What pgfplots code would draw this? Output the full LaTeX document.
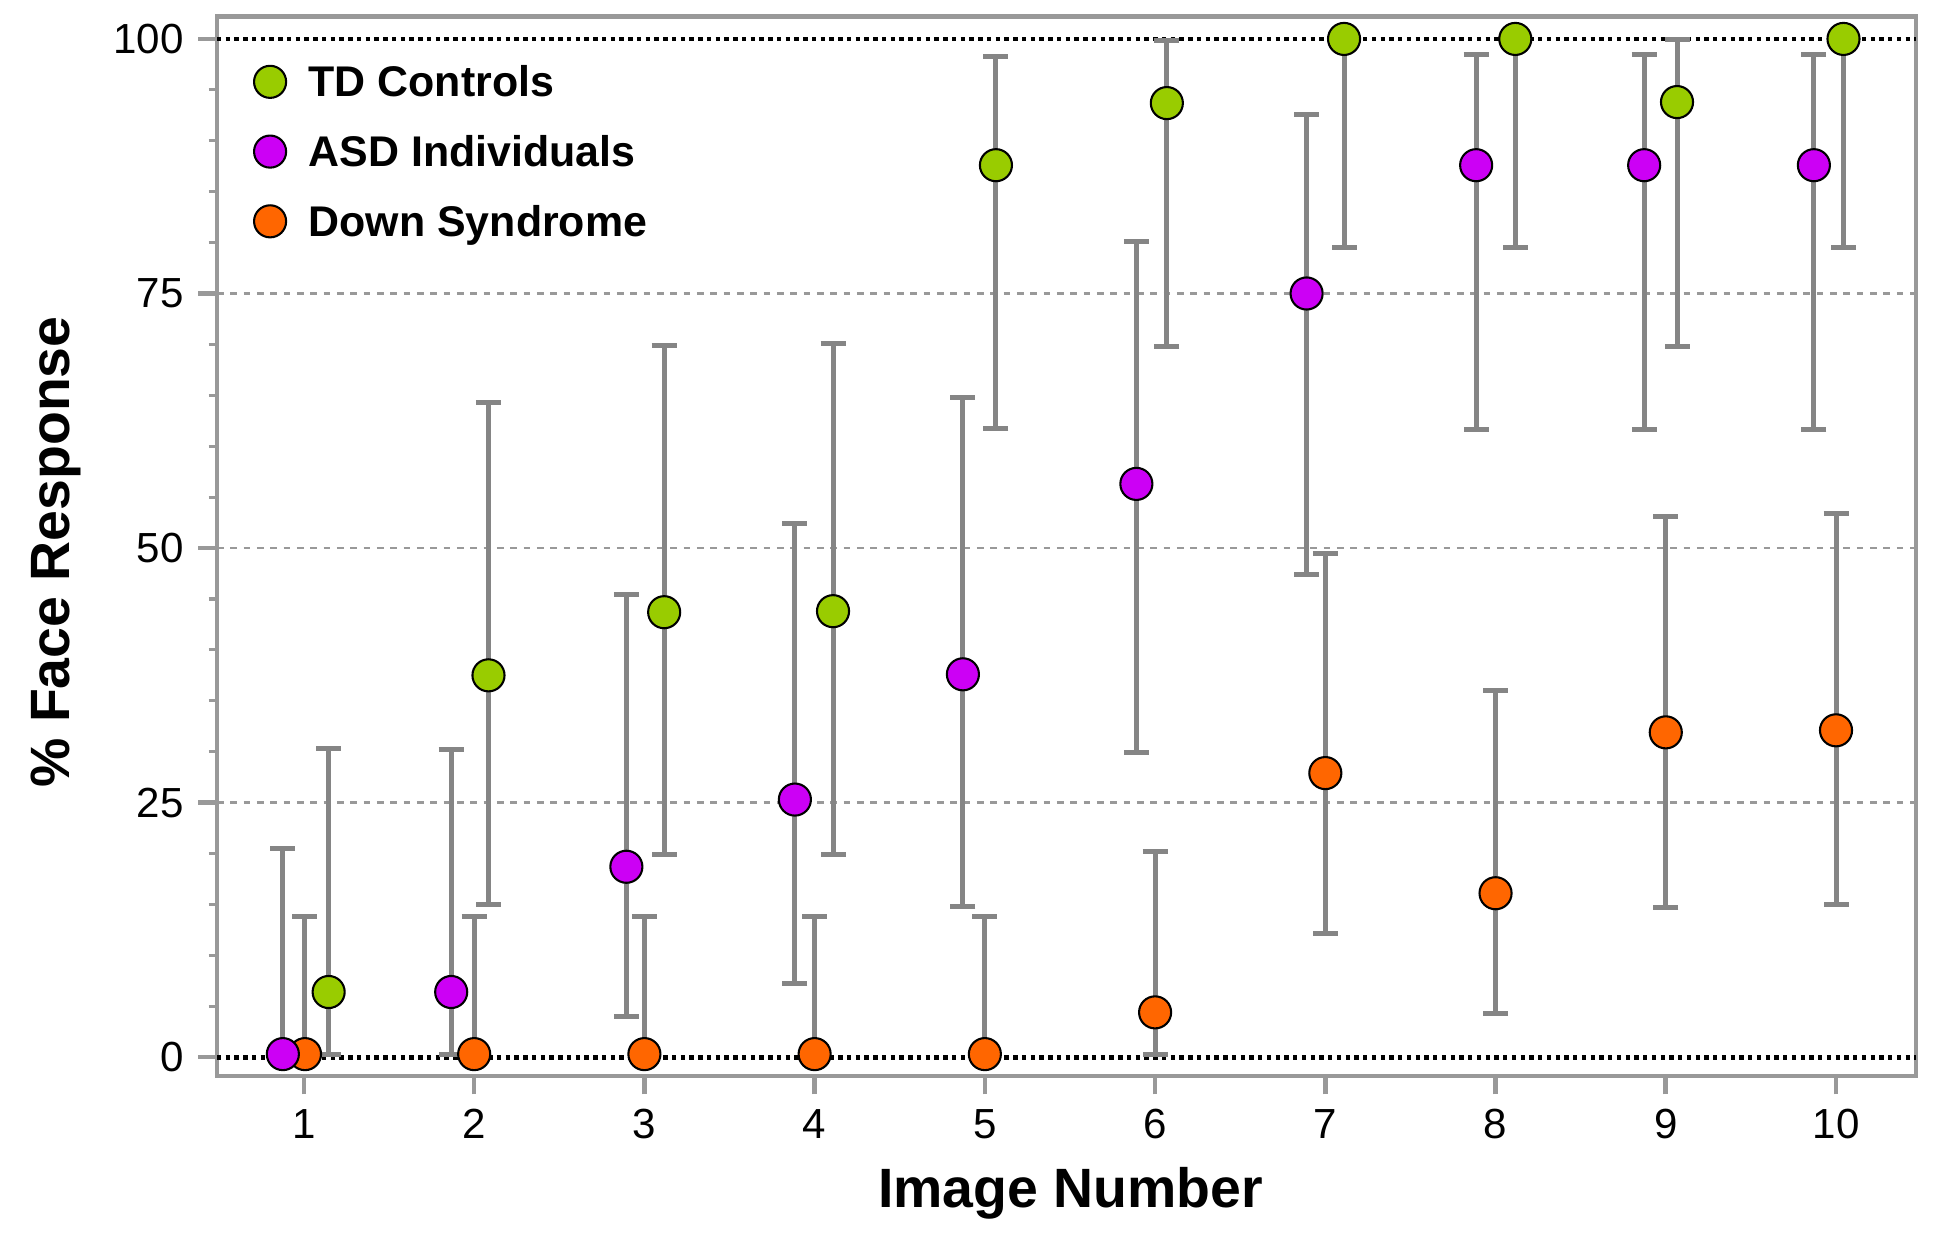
\documentclass[border=0pt]{standalone}
\usepackage{pgfplots}
\usepackage{pgfplotstable}
\pgfplotsset{compat=1.18}
\usepackage{fontspec}
\setmainfont{Liberation Sans}
\definecolor{tdgreen}{HTML}{99CC00}
\definecolor{asdpurple}{HTML}{CC00F5}
\definecolor{dsorange}{HTML}{FF6600}
\definecolor{bargray}{HTML}{858585}
\definecolor{framegray}{HTML}{999999}

% x  y  ep(plus)  em(minus)
\pgfplotstableread{
x y ep em
1.145 6.4 23.9 6.1
2.084 37.5 26.8 22.5
3.116 43.7 26.2 23.8
4.108 43.8 26.3 23.9
5.065 87.6 10.7 25.9
6.069 93.7 6.1 23.9
7.110 100 0 20.5
8.116 100 0 20.5
9.066 93.8 6.1 24.0
10.044 100 0 20.5
}\tdtable

\pgfplotstableread{
x y ep em
0.876 0.3 20.2 0
1.865 6.4 23.8 6.1
2.894 18.7 26.7 14.7
3.884 25.3 27.1 18.1
4.871 37.6 27.2 22.8
5.890 56.3 23.8 26.4
6.890 75.0 17.6 27.6
7.886 87.6 10.9 26.0
8.873 87.6 10.9 26.0
9.870 87.6 10.9 26.0
}\asdtable

\pgfplotstableread{
x y ep em
1.006 0.3 13.5 0
2.000 0.3 13.5 0
3.000 0.3 13.5 0
4.000 0.3 13.5 0
5.000 0.3 13.5 0
6.000 4.4 15.8 4.1
7.000 27.9 21.6 15.8
8.000 16.1 19.9 11.8
9.000 31.9 21.2 17.2
10.000 32.1 21.3 17.1
}\dstable

\pgfplotsset{
  pt/.style={only marks, forget plot, mark=*, mark size=3.85pt, color=black,
    mark options={fill=#1, line width=0.5pt, solid},
    error bars/.cd, y dir=both, y explicit,
    error bar style={bargray, line width=1.2pt, solid},
    error mark options={bargray, line width=1.2pt, mark size=3pt, rotate=90}},
}

\begin{document}
\begin{tikzpicture}
\begin{axis}[
  width=407.8pt, height=254.2pt, scale only axis,
  xmin=0.489, xmax=10.47, ymin=-1.82, ymax=102.19,
  axis line style={framegray, line width=1.05pt},
  xtick={1,2,3,4,5,6,7,8,9,10},
  ytick={25,50,75},
  minor ytick={5,10,15,20,30,35,40,45,55,60,65,70,80,85,90,95},
  extra y ticks={0,100},
  extra y tick style={ymajorgrids=true, major grid style={black, line width=1.15pt, dash pattern=on 1.05pt off 1.05pt}},
  ymajorgrids,
  major grid style={framegray, line width=0.55pt, dash pattern=on 1.6pt off 1.6pt},
  tick align=outside,
  xtick pos=bottom, ytick pos=left,
  major tick length=4.5pt, minor tick length=2pt,
  every major tick/.append style={framegray, line width=1.1pt},
  every minor tick/.append style={framegray, line width=0.75pt},
  /pgf/number format/assume math mode=true,
  tick label style={font=\fontsize{10.1}{12}\selectfont, black},
  legend image code/.code={\draw[#1] plot coordinates {(0pt,0pt)};},
  legend cell align=left,
  legend style={draw=none, fill=none, inner sep=0pt, outer sep=0pt,
    at={(rel axis cs:0,1)}, anchor=north west, xshift=8.9pt, yshift=-11.8pt,
    font=\bfseries\fontsize{10.3}{12}\selectfont,
    row sep=9.04pt,
    nodes={inner sep=0pt, text height=0.716em, text depth=0pt},
    /tikz/every odd column/.style={column sep=5.4pt}},
]
\addlegendimage{mark=*, mark size=3.85pt, black, mark options={fill=tdgreen, line width=0.5pt}}
\addlegendentry{TD Controls}
\addlegendimage{mark=*, mark size=3.85pt, black, mark options={fill=asdpurple, line width=0.5pt}}
\addlegendentry{ASD Individuals}
\addlegendimage{mark=*, mark size=3.85pt, black, mark options={fill=dsorange, line width=0.5pt}}
\addlegendentry{Down Syndrome}

\addplot[pt=tdgreen] table[x=x, y=y, y error plus=ep, y error minus=em] {\tdtable};
\addplot[pt=dsorange] table[x=x, y=y, y error plus=ep, y error minus=em] {\dstable};
\addplot[pt=asdpurple] table[x=x, y=y, y error plus=ep, y error minus=em] {\asdtable};
\end{axis}
\node[rotate=90, anchor=base, font=\bfseries\fontsize{13.3}{16}\selectfont] at ([xshift=-35.5pt, yshift=-1.4pt]current axis.west) {\% Face Response};
\node[anchor=base, font=\bfseries\fontsize{13.3}{16}\selectfont] at ([xshift=1pt, yshift=-31.7pt]current axis.south) {Image Number};
\pgfresetboundingbox
\path ([shift={(-52.08pt,-37.68pt)}]current axis.south west) rectangle ([shift={(7.92pt,4.0pt)}]current axis.north east);
\end{tikzpicture}
\end{document}
